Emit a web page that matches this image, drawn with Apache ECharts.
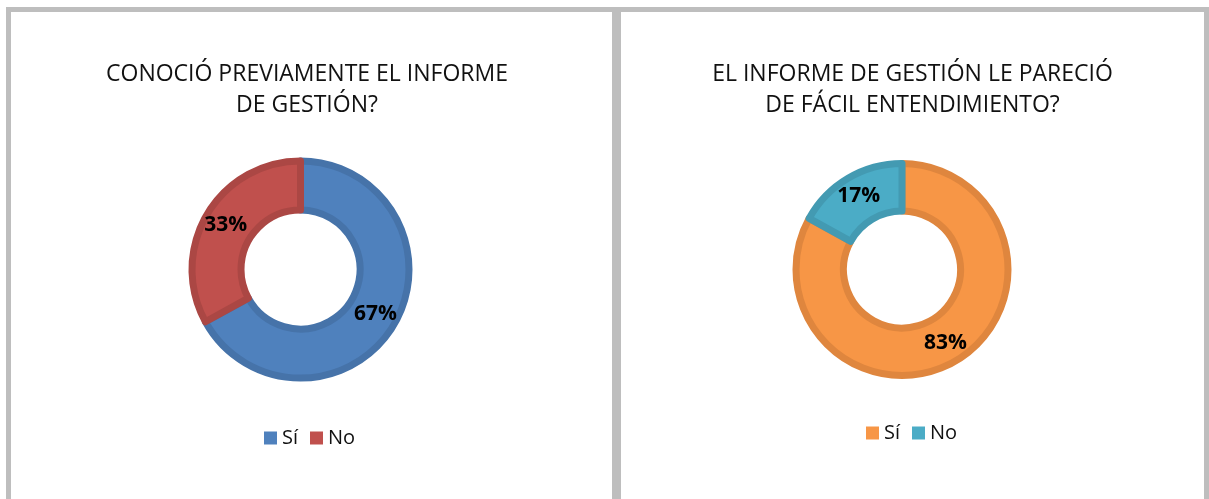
<!DOCTYPE html>
<html>
<head>
    <meta charset="utf-8">
    <title>Encuesta informe de gestión</title>
    <script src="https://cdn.jsdelivr.net/npm/echarts@6/dist/echarts.min.js"></script>
    <style>
      html, body { margin: 0; padding: 0; width: 1209px; height: 499px; overflow: hidden; background: #fff; }
      .panel { position: absolute; top: 7px; height: 520px; box-sizing: border-box; border: 5px solid #bebebe; border-bottom: none; }
      .chart { position: absolute; top: 0; height: 499px; }
    </style>
</head>
<body>
    <div class="panel" style="left:6px; width:611px;"></div>
    <div class="panel" style="left:616px; width:593px;"></div>
    <div id="chart1" class="chart" style="left:0; width:614px;"></div>
    <div id="chart2" class="chart" style="left:616px; width:593px;"></div>
    <script>
    // datos de la encuesta (porcentajes)
    var categorias = ['Sí', 'No'];
    var conocioPreviamente = [67, 33];
    var facilEntendimiento = [83, 17];
    var titulo1 = 'CONOCIÓ PREVIAMENTE EL INFORME\nDE GESTIÓN?';
    var titulo2 = 'EL INFORME DE GESTIÓN LE PARECIÓ\nDE FÁCIL ENTENDIMIENTO?';

    var colores1 = [['#4f81bd', '#4673a9'], ['#c0504d', '#ab4744']];
    var colores2 = [['#f79646', '#df863e'], ['#4bacc6', '#439ab2']];
    var fuente = '"Open Sans", sans-serif';

    function armarDatos(valores, colores) {
        var datos = [];
        for (var i = 0; i < categorias.length; i++) {
            datos.push({
                name: categorias[i], value: valores[i],
                itemStyle: { color: colores[i][0], borderColor: colores[i][1], borderWidth: 7 }
            });
        }
        return datos;
    }

    function opcion(titulo, valores, colores, centro, radio, legendaX, legendaY) {
        return {
            animation: false,
            title: {
                text: titulo, left: 'center', top: 59, padding: 0,
                textStyle: { fontFamily: fuente, fontSize: 23, fontWeight: 'normal', color: '#111', lineHeight: 31 }
            },
            legend: {
                data: categorias, left: legendaX, top: legendaY, orient: 'horizontal', padding: 0,
                itemWidth: 13, itemHeight: 13, itemGap: 12, icon: 'rect',
                itemStyle: { borderWidth: 0 },
                textStyle: { fontFamily: fuente, fontSize: 20, color: '#111', lineHeight: 19 }
            },
            series: [{
                type: 'pie', center: centro, radius: radio, startAngle: 90, clockwise: true,
                avoidLabelOverlap: false, silent: true,
                label: { show: true, position: 'inside', formatter: '{c}%', fontFamily: fuente, fontSize: 21, fontWeight: 'bold', color: '#000' },
                labelLine: { show: false },
                data: armarDatos(valores, colores)
            }]
        };
    }

    var chart1 = echarts.init(document.getElementById('chart1'));
    chart1.setOption(opcion(titulo1, conocioPreviamente, colores1, [300.5, 269.5], [59.5, 108.5], 264, 428));
    var chart2 = echarts.init(document.getElementById('chart2'));
    chart2.setOption(opcion(titulo2, facilEntendimiento, colores2, [286, 269.5], [58.5, 106], 250, 423));

    window.onresize = function () {
        chart1.resize();
        chart2.resize();
    };
    </script>
</body>
</html>
